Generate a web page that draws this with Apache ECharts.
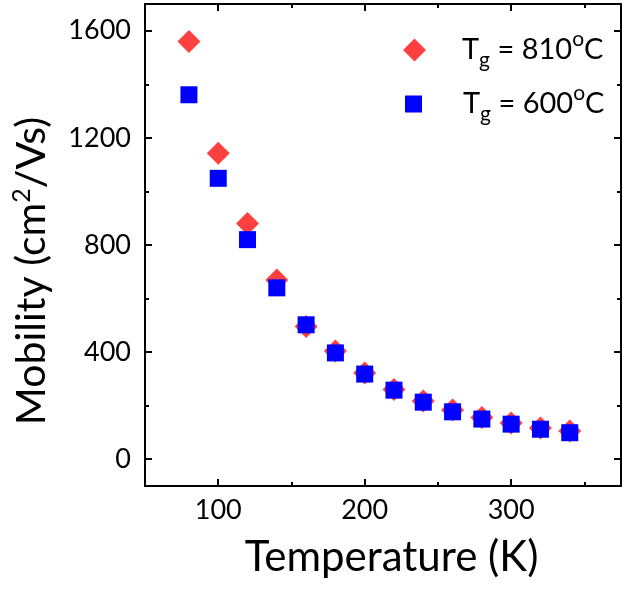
<!DOCTYPE html>
<html>
<head>
<meta charset="utf-8">
<script src="https://cdn.jsdelivr.net/npm/echarts@6/dist/echarts.min.js"></script>
<style>
  html, body { margin: 0; padding: 0; background: #fff; }
  #chart { width: 632px; height: 592px; }
</style>
</head>
<body>
<div id="chart"></div>
<script>
// temperatures (K)
var temps = [80, 100, 120, 140, 160, 180, 200, 220, 240, 260, 280, 300, 320, 340];
// mobility (cm2/Vs), Tg = 810 C
var mob810 = [1560, 1143, 880, 669, 496, 404, 322, 260, 217, 184, 156, 135, 117, 105];
// mobility (cm2/Vs), Tg = 600 C
var mob600 = [1361, 1049, 820, 640, 502, 397, 318, 258, 213, 177, 150, 131, 112, 99];

var xMajor = [100, 200, 300];
var xMinor = [150, 250, 350];
var yMajor = [0, 400, 800, 1200, 1600];
var yMinor = [200, 600, 1000, 1400];

var FONT = 'Lato';

function pairs(xs, ys) {
    return xs.map(function (x, i) { return [x, ys[i]]; });
}

var chart = echarts.init(document.getElementById('chart'));

// axis helper: one axis per tick set, so major and minor ticks get their own length
function xAx(pos, ticks, len, showLine, showLabel, name) {
    var a = {
        type: 'value', position: pos, min: 50, max: 375,
        axisLine: { show: showLine, onZero: false, lineStyle: { color: '#000', width: 2 } },
        axisTick: { show: true, inside: true, length: len, customValues: ticks,
                    lineStyle: { color: '#000', width: 2 } },
        axisLabel: { show: showLabel, customValues: ticks, margin: 11,
                     formatter: function (v) { return String(v); },
                     color: '#000', fontFamily: FONT, fontSize: 27 },
        splitLine: { show: false }
    };
    if (name) {
        a.name = name;
        a.nameLocation = 'middle';
        a.nameGap = 50;
        a.nameMoveOverlap = false;
        a.nameTextStyle = { color: '#000', fontFamily: FONT, fontSize: 42, padding: [0, 0, 0, 17] };
    }
    return a;
}

function yAx(pos, ticks, len, showLine, showLabel, withName) {
    var a = {
        type: 'value', position: pos, min: -100, max: 1700,
        axisLine: { show: showLine, onZero: false, lineStyle: { color: '#000', width: 2 } },
        axisTick: { show: true, inside: true, length: len, customValues: ticks,
                    lineStyle: { color: '#000', width: 2 } },
        axisLabel: { show: showLabel, customValues: ticks, margin: 14,
                     formatter: function (v) { return String(v); },
                     color: '#000', fontFamily: FONT, fontSize: 27 },
        splitLine: { show: false }
    };
    if (withName) {
        a.name = '{t|Mobility (cm}{s|2}{t|/Vs)}';
        a.nameLocation = 'middle';
        a.nameGap = 90;
        a.nameMoveOverlap = false;
        a.nameTextStyle = {
            color: '#000', fontFamily: FONT, fontSize: 41,
            padding: [0, 52, 0, 0],
            rich: {
                t: { fontFamily: FONT, fontSize: 41, color: '#000', lineHeight: 46 },
                s: { fontFamily: FONT, fontSize: 25, color: '#000', verticalAlign: 'top', lineHeight: 28 }
            }
        };
    }
    return a;
}

var legendRich = {
    n: { fontFamily: FONT, fontSize: 29, color: '#000', lineHeight: 42 },
    sub: { fontFamily: FONT, fontSize: 21, color: '#000', verticalAlign: 'bottom', lineHeight: 21 },
    sup: { fontFamily: FONT, fontSize: 21, color: '#000', verticalAlign: 'top', lineHeight: 24 }
};

var option = {
    backgroundColor: '#fff',
    animation: false,
    grid: { left: 145, right: 11, top: 4, bottom: 106, outerBoundsMode: 'none' },
    legend: [
        {
            data: [{ name: 'Tg810', icon: 'diamond' }],
            left: 403, top: 29, padding: 0,
            itemWidth: 23, itemHeight: 23,
            formatter: function () { return '{n|T}{sub|g}{n| = 810}{sup|o}{n|C}'; },
            textStyle: { rich: legendRich, padding: [0, 0, 0, 31] }
        },
        {
            data: [{ name: 'Tg600', icon: 'rect' }],
            left: 405, top: 83, padding: 0,
            itemWidth: 17, itemHeight: 17,
            formatter: function () { return '{n|T}{sub|g}{n| = 600}{sup|o}{n|C}'; },
            textStyle: { rich: legendRich, padding: [0, 0, 0, 36] }
        }
    ],
    xAxis: [
        xAx('bottom', xMajor, 7, true, true, 'Temperature (K)'),
        xAx('bottom', xMinor, 4, false, false),
        xAx('top', xMajor, 7, true, false),
        xAx('top', xMinor, 4, false, false)
    ],
    yAxis: [
        yAx('left', yMajor, 7, true, true, true),
        yAx('left', yMinor, 4, false, false),
        yAx('right', yMajor, 7, true, false),
        yAx('right', yMinor, 4, false, false)
    ],
    series: [
        {
            name: 'Tg810', type: 'scatter', symbol: 'diamond', symbolSize: 23,
            itemStyle: { color: '#ff4040', opacity: 1 },
            data: pairs(temps, mob810)
        },
        {
            name: 'Tg600', type: 'scatter', symbol: 'rect', symbolSize: 17,
            itemStyle: { color: '#0000ff', opacity: 1 },
            data: pairs(temps, mob600)
        }
    ]
};

chart.setOption(option);
</script>
</body>
</html>
